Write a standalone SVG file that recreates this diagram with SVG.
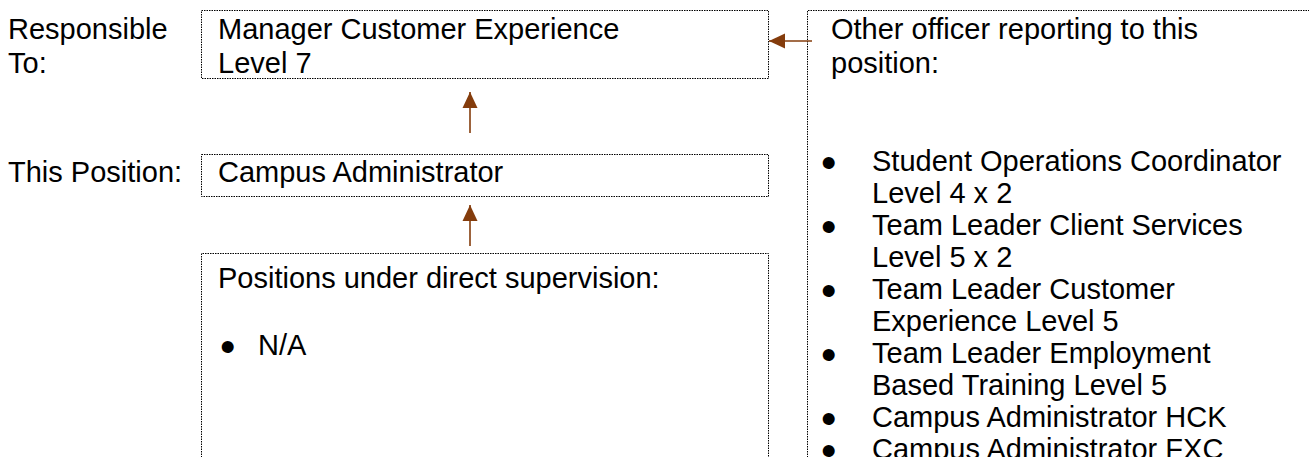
<svg xmlns="http://www.w3.org/2000/svg" width="1309" height="457" viewBox="0 0 1309 457">
  <style>
    .t { font-family: "Liberation Sans", Arial, sans-serif; font-size: 29px; fill: #000; }
    .b { font-family: "Liberation Sans", Arial, sans-serif; font-size: 44px; fill: #000; }
    .box { fill: none; stroke: #000; stroke-width: 1; stroke-dasharray: 1.5 1; }
    .con { stroke: #843C0C; stroke-width: 1.6; fill: none; }
  </style>
  <defs>
    <marker id="ah" markerUnits="userSpaceOnUse" markerWidth="16" markerHeight="16" viewBox="0 0 16 16" refX="16" refY="8" orient="auto">
      <path d="M0,0.5 L16,8 L0,15.5 z" fill="#843C0C"/>
    </marker>
  </defs>
  <rect width="1309" height="457" fill="#fff"/>

  <g id="labels">
    <text class="t" x="8" y="39">Responsible</text>
    <text class="t" x="8" y="73">To:</text>
    <text class="t" x="8" y="182">This Position:</text>
  </g>

  <g id="responsible-to">
    <rect class="box" x="201.5" y="10.5" width="567" height="68"/>
    <text class="t" x="218" y="39">Manager Customer Experience</text>
    <text class="t" x="218" y="73">Level 7</text>
  </g>

  <g id="this-position">
    <rect class="box" x="201.5" y="154.5" width="567" height="42"/>
    <text class="t" x="218" y="182">Campus Administrator</text>
  </g>

  <g id="under-supervision">
    <path class="box" d="M201.5,470 V253.5 H768.5 V470"/>
    <text class="t" x="218" y="288">Positions under direct supervision:</text>
    <text class="b" x="220" y="362">•</text>
    <text class="t" x="258" y="355">N/A</text>
  </g>

  <g id="other-officers">
    <path class="box" d="M807.5,470 V10.5 H1320"/>
    <text class="t" x="831" y="39">Other officer reporting to this</text>
    <text class="t" x="831" y="73">position:</text>
    <text class="b" x="821" y="178">•</text>
    <text class="t" x="872" y="171">Student Operations Coordinator</text>
    <text class="t" x="872" y="203">Level 4 x 2</text>
    <text class="b" x="821" y="242">•</text>
    <text class="t" x="872" y="235">Team Leader Client Services</text>
    <text class="t" x="872" y="267">Level 5 x 2</text>
    <text class="b" x="821" y="306">•</text>
    <text class="t" x="872" y="299">Team Leader Customer</text>
    <text class="t" x="872" y="331">Experience Level 5</text>
    <text class="b" x="821" y="370">•</text>
    <text class="t" x="872" y="363">Team Leader Employment</text>
    <text class="t" x="872" y="395">Based Training Level 5</text>
    <text class="b" x="821" y="434">•</text>
    <text class="t" x="872" y="427">Campus Administrator HCK</text>
    <text class="b" x="821" y="466">•</text>
    <text class="t" x="872" y="459">Campus Administrator FXC</text>
  </g>

  <g id="connectors">
    <line class="con" x1="470" y1="133" x2="470" y2="92" marker-end="url(#ah)"/>
    <line class="con" x1="470" y1="246" x2="470" y2="205" marker-end="url(#ah)"/>
    <line class="con" x1="812" y1="41" x2="769" y2="41" marker-end="url(#ah)"/>
  </g>
</svg>
